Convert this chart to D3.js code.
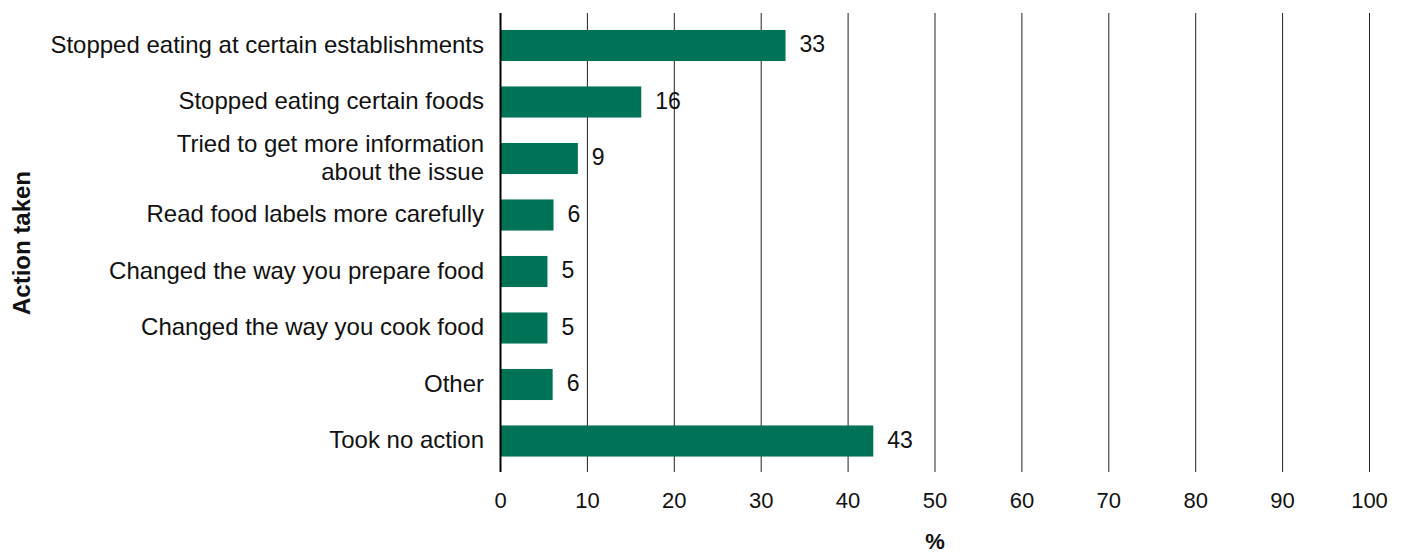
<!DOCTYPE html>
<html><head><meta charset="utf-8">
<script src="https://cdn.jsdelivr.net/npm/d3@7"></script>
<style>body{margin:0;background:#fff;}svg{display:block;font-family:"Liberation Sans",Arial,sans-serif;}</style>
</head><body>
<svg id="c" width="1409" height="553"></svg>
<script>
const categories = [
  ["Stopped eating at certain establishments"],
  ["Stopped eating certain foods"],
  ["Tried to get more information", "about the issue"],
  ["Read food labels more carefully"],
  ["Changed the way you prepare food"],
  ["Changed the way you cook food"],
  ["Other"],
  ["Took no action"]
];
const values = [32.8, 16.2, 8.9, 6.1, 5.4, 5.4, 6.0, 42.9];
const valueLabels = ["33", "16", "9", "6", "5", "5", "6", "43"];
const xTicks = [0,10,20,30,40,50,60,70,80,90,100];
const xTitle = "%";
const yTitle = "Action taken";

const svg = d3.select("#c");
const x = d3.scaleLinear().domain([0,100]).range([500.5, 1369.5]);
const y = d3.scaleBand().domain(d3.range(categories.length)).range([17.25, 469.25]).paddingInner(0.45).paddingOuter(0.225);
const gridTop = 13, gridBottom = 472;

// gridlines
svg.append("g").selectAll("line").data(xTicks.slice(1)).join("line")
  .attr("x1", d => x(d)).attr("x2", d => x(d))
  .attr("y1", gridTop).attr("y2", gridBottom)
  .attr("stroke", "#222").attr("stroke-width", 1);

// bars
svg.append("g").selectAll("rect").data(values).join("rect")
  .attr("x", x(0)).attr("y", (d,i) => y(i))
  .attr("width", d => x(d) - x(0)).attr("height", y.bandwidth())
  .attr("fill", "#007255");

// axis line
svg.append("line").attr("x1", x(0)).attr("x2", x(0)).attr("y1", gridTop).attr("y2", gridBottom)
  .attr("stroke", "#000").attr("stroke-width", 2);

// value labels
svg.append("g").selectAll("text").data(values).join("text")
  .attr("x", d => x(d) + 14).attr("y", (d,i) => y(i) + y.bandwidth()/2)
  .attr("dy", "0.3em").attr("font-size", 23).attr("fill", "#111")
  .text((d,i) => valueLabels[i]);

// category labels
const cl = svg.append("g").selectAll("text").data(categories).join("text")
  .attr("text-anchor", "end").attr("font-size", 24).attr("fill", "#111")
  .attr("y", (d,i) => y(i) + y.bandwidth()/2);
cl.each(function(lines){
  const t = d3.select(this);
  const n = lines.length;
  lines.forEach((l, k) => {
    t.append("tspan").attr("x", 484)
      .attr("dy", k === 0 ? ((0.3 - (n-1)*0.585) + "em") : "1.17em")
      .text(l);
  });
});

// x tick labels
svg.append("g").selectAll("text").data(xTicks).join("text")
  .attr("x", d => x(d)).attr("y", 500).attr("dy", "0.36em")
  .attr("text-anchor", "middle").attr("font-size", 22).attr("fill", "#111")
  .text(d => d);

// axis titles
svg.append("text").attr("x", x(50)).attr("y", 541).attr("dy", "0.36em")
  .attr("text-anchor", "middle").attr("font-size", 22).attr("font-weight", "bold").attr("fill", "#111")
  .text(xTitle);
svg.append("text").attr("transform", "translate(21,243) rotate(-90)").attr("dy", "0.36em")
  .attr("text-anchor", "middle").attr("font-size", 24).attr("font-weight", "bold").attr("fill", "#111")
  .text(yTitle);
</script>
</body></html>
